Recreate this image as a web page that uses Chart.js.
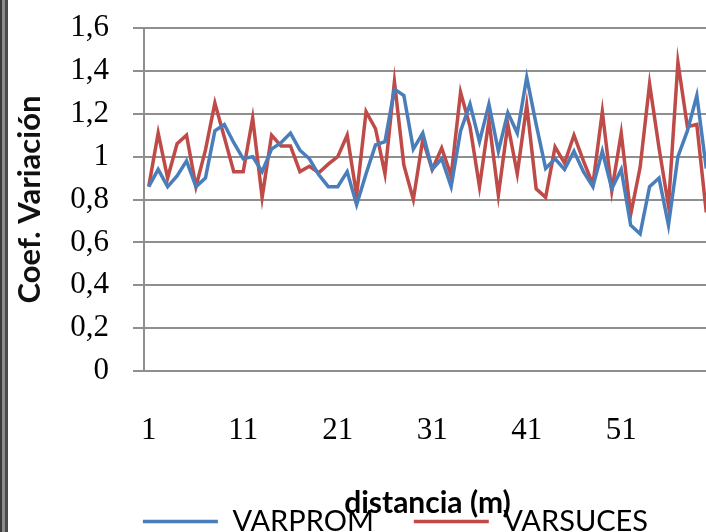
<!DOCTYPE html>
<html>
<head>
<meta charset="utf-8">
<script src="https://cdn.jsdelivr.net/npm/chart.js@4"></script>
<style>
  html, body { margin: 0; padding: 0; background: #fff; }
  #wrap { position: relative; width: 706px; height: 532px; overflow: hidden; background: #fff; }
  #edge { position: absolute; left: 0; top: 0; width: 8px; height: 532px; z-index: 2;
    background: linear-gradient(to right, #3a3a3a 0, #3a3a3a 2px, #8c8c8c 2px, #8c8c8c 5px, #4b4b4b 5px, #4b4b4b 8px); }
  #box { position: absolute; left: 0; top: 0; width: 711px; height: 532px; }
</style>
</head>
<body>
<div id="wrap">
  <div id="edge"></div>
  <div id="box"><canvas id="coefvar"></canvas></div>
</div>
<script>
// distancia (m), one point per metre
var distancia = [1,2,3,4,5,6,7,8,9,10,11,12,13,14,15,16,17,18,19,20,
  21,22,23,24,25,26,27,28,29,30,31,32,33,34,35,36,37,38,39,40,
  41,42,43,44,45,46,47,48,49,50,51,52,53,54,55,56,57,58,59,60];

var varprom = [0.86,0.94,0.86,0.91,0.98,0.86,0.90,1.12,1.15,1.065,
  0.99,1.00,0.93,1.035,1.065,1.11,1.03,0.99,0.915,0.86,
  0.86,0.93,0.775,0.92,1.055,1.07,1.315,1.285,1.035,1.11,
  0.94,0.99,0.86,1.12,1.245,1.07,1.245,1.025,1.205,1.11,
  1.37,1.15,0.945,0.99,0.94,1.025,0.93,0.86,1.025,0.85,
  0.94,0.68,0.64,0.86,0.90,0.68,1.00,1.12,1.285,0.945];

var varsuces = [0.86,1.11,0.90,1.06,1.10,0.86,1.03,1.25,1.09,0.93,
  0.93,1.18,0.81,1.10,1.05,1.05,0.93,0.955,0.925,0.965,
  1.00,1.10,0.82,1.21,1.13,0.92,1.35,0.96,0.80,1.08,
  0.94,1.04,0.91,1.30,1.14,0.86,1.17,0.82,1.15,0.92,
  1.24,0.85,0.81,1.045,0.97,1.10,0.98,0.87,1.21,0.84,
  1.11,0.73,0.95,1.34,1.04,0.77,1.44,1.14,1.15,0.74];

var yMin = 0, yMax = 1.6, yStep = 0.2;

var gridGrey = '#8f8f8f';

// the legend in the original sits a little right of centre
var legendNudge = {
  id: 'legendNudge',
  afterLayout: function(chart) {
    chart.legend.left += 6;
    chart.legend.right += 6;
  }
};

new Chart('coefvar', {
  type: 'line',
  data: {
    labels: distancia,
    datasets: [
      { label: 'VARPROM', data: varprom, borderColor: '#4a7ebb', backgroundColor: '#4a7ebb',
        borderWidth: 3.5, pointRadius: 0, tension: 0, fill: false },
      { label: 'VARSUCES', data: varsuces, borderColor: '#be4b48', backgroundColor: '#be4b48',
        borderWidth: 3.5, pointRadius: 0, tension: 0, fill: false }
    ]
  },
  plugins: [legendNudge],
  options: {
    responsive: true,
    maintainAspectRatio: false,
    animation: false,
    layout: { padding: { left: 68, right: 0, top: 28, bottom: -14 } },
    plugins: {
      tooltip: { enabled: false },
      legend: {
        position: 'bottom',
        labels: {
          usePointStyle: true,
          pointStyle: 'line',
          pointStyleWidth: 75,
          padding: 40,
          color: '#000',
          font: { family: 'Lato', size: 29 }
        }
      }
    },
    scales: {
      x: {
        offset: true,
        afterFit: function(scale) {
          scale.height = 96;
          scale.paddingLeft = 0;
          scale.paddingRight = 0;
        },
        grid: { display: false, drawTicks: false },
        border: { display: false },
        ticks: {
          autoSkip: false, maxRotation: 0, padding: 41, color: '#000',
          font: { family: 'Liberation Serif', size: 31 },
          callback: function(val, i) { return i % 10 === 0 ? distancia[i] : ''; }
        },
        title: {
          display: true, text: 'distancia (m)', color: '#000',
          font: { family: 'Lato', size: 30, weight: 'bold' },
          padding: { top: 0, bottom: -54 }
        }
      },
      y: {
        min: yMin, max: yMax,
        afterFit: function(scale) {
          scale.width = 76;
          scale.paddingTop = 0;
          scale.paddingBottom = 0;
        },
        grid: { color: gridGrey, lineWidth: 2, tickLength: 11 },
        border: { color: gridGrey, width: 2 },
        ticks: {
          stepSize: yStep, autoSkip: false, padding: 24, color: '#000',
          font: { family: 'Liberation Serif', size: 31 },
          callback: function(v) { return String(Number(v.toFixed(1))).replace('.', ','); }
        },
        title: {
          display: true, text: 'Coef. Variación', color: '#111',
          font: { family: 'Lato', size: 31, weight: 'bold' },
          padding: { top: -56.6, bottom: 0 }
        }
      }
    }
  }
});
</script>
</body>
</html>
